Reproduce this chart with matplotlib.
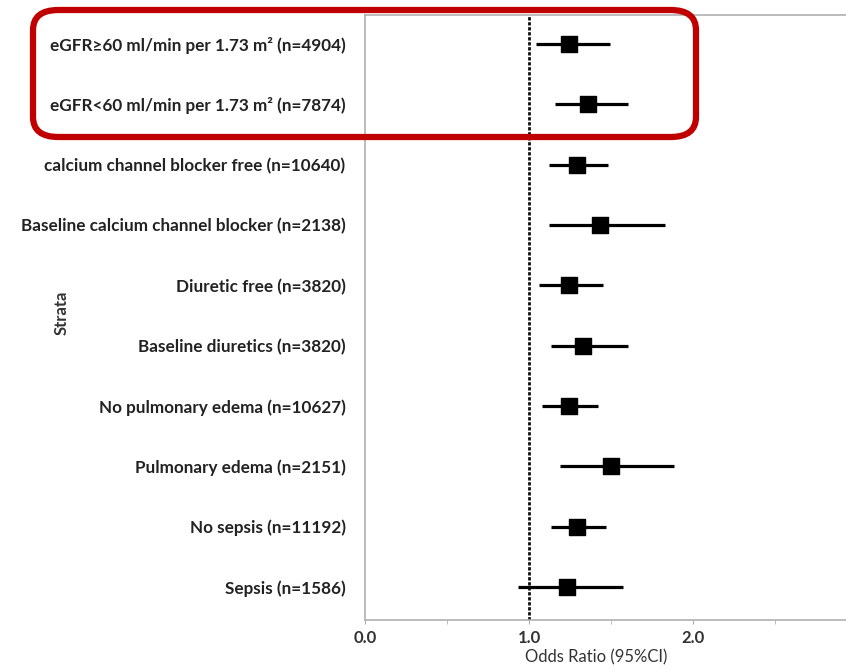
import numpy as np
import matplotlib.pyplot as plt
from matplotlib.patches import FancyBboxPatch
from matplotlib.ticker import MultipleLocator

# Strata labels (top to bottom) and odds ratios with 95% CI
labels = [
    'eGFR≥60 ml/min per 1.73 m² (n=4904)',
    'eGFR<60 ml/min per 1.73 m² (n=7874)',
    'calcium channel blocker free (n=10640)',
    'Baseline calcium channel blocker (n=2138)',
    'Diuretic free (n=3820)',
    'Baseline diuretics (n=3820)',
    'No pulmonary edema (n=10627)',
    'Pulmonary edema (n=2151)',
    'No sepsis (n=11192)',
    'Sepsis (n=1586)',
]
odds = [1.24, 1.36, 1.29, 1.43, 1.24, 1.33, 1.24, 1.50, 1.29, 1.23]
ci_low = [1.04, 1.16, 1.12, 1.12, 1.06, 1.13, 1.08, 1.19, 1.13, 0.93]
ci_high = [1.49, 1.60, 1.48, 1.83, 1.45, 1.60, 1.42, 1.88, 1.47, 1.57]

font = ['Lato', 'DejaVu Sans']
W, H = 846, 669

fig = plt.figure(figsize=(W / 100, H / 100), dpi=100)
ax = fig.add_axes([365 / W, 1 - 620 / H, (W - 365) / W, 605 / H])

y = np.arange(len(labels))
ax.hlines(y, ci_low, ci_high, color='black', lw=2.3, zorder=3)
ax.scatter(odds, y, marker='s', s=145, color='black', zorder=4)
ax.axvline(1.0, color='#111111', lw=2.0, linestyle=(0, (1.2, 0.6)), zorder=2)

ax.set_xlim(0, 2.93)
ax.set_ylim(9.55, -0.48)
ax.set_yticks(y)
ax.set_yticklabels(labels, fontfamily=font, fontweight='bold', fontsize=12.3, color='#222222')
ax.tick_params(axis='y', length=0, pad=14)

ax.set_xticks([0, 1, 2])
ax.set_xticklabels(['0.0', '1.0', '2.0'], fontfamily=font, fontweight='bold', fontsize=12, color='#333333')
ax.xaxis.set_minor_locator(MultipleLocator(0.5))
ax.tick_params(axis='x', which='both', length=3, color='#b0b0b0', pad=4)

ax.set_xlabel('Odds Ratio (95%CI)', fontfamily=font, fontsize=12, color='#333333')
ax.xaxis.set_label_coords(0.48, -0.048)
ax.set_ylabel('Strata', fontfamily=font, fontweight='bold', fontsize=12, color='#333333')
ax.yaxis.set_label_coords(-0.615, 0.507)

for side in ['left', 'top', 'bottom']:
    ax.spines[side].set_color('#b0b0b0')
    ax.spines[side].set_linewidth(1.2)
ax.spines['right'].set_visible(False)

# red highlight around the eGFR strata
x0, x1, y0, y1 = 33, 696, 10, 137
box = FancyBboxPatch((x0 / W, 1 - y1 / H), (x1 - x0) / W, (y1 - y0) / H,
                     boxstyle='round,pad=0,rounding_size=0.03',
                     transform=fig.transFigure, fill=False,
                     edgecolor='#C00000', lw=4.5, zorder=10)
fig.patches.append(box)

fig.savefig('out.png', dpi=100)
